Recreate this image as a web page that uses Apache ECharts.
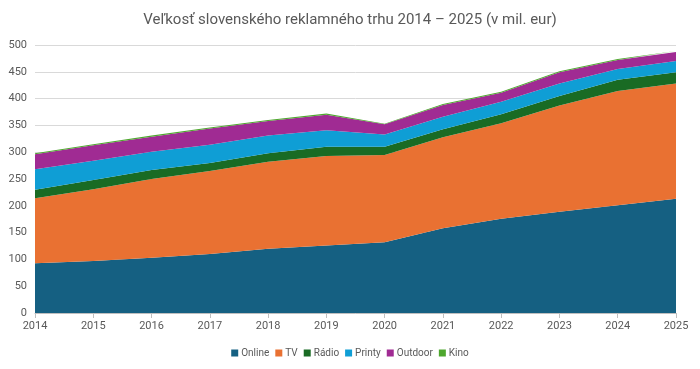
<!DOCTYPE html>
<html><head><meta charset="utf-8">
<script src="https://cdn.jsdelivr.net/npm/echarts@6/dist/echarts.min.js"></script>
<style>html,body{margin:0;padding:0;background:#fff}#c{width:700px;height:369px}</style>
</head><body><div id="c"></div>
<script>
const years = ['2014','2015','2016','2017','2018','2019','2020','2021','2022','2023','2024','2025'];
const online  = [93, 97, 103, 110, 120, 126, 132, 158, 176, 189, 201, 213];
const tv      = [121, 134, 147, 155, 162, 167, 163, 170, 178, 198, 213, 215];
const radio   = [16, 17, 17, 15, 16, 17, 15, 15, 17, 18, 21, 21];
const printy  = [38, 36, 34, 34, 33, 31, 23, 23, 23, 23, 20, 21];
const outdoor = [28, 29, 28, 30, 27, 29, 19, 22, 17, 21, 17, 17];
const kino    = [2, 2, 2, 2, 2, 2, 1, 2, 2, 2, 2, 2];
const names = ['Online','TV','Rádio','Printy','Outdoor','Kino'];
const colors = ['#156082','#E97132','#196B24','#0F9ED5','#A02B93','#4EA72E'];
const data = [online, tv, radio, printy, outdoor, kino];
const font = 'Roboto';
const chart = echarts.init(document.getElementById('c'));
chart.setOption({
  animation:false,
  textStyle:{fontFamily:font},
  title:{text:'Veľkosť slovenského reklamného trhu 2014 – 2025 (v mil. eur)',left:'center',top:8,
    textStyle:{fontFamily:font,fontSize:15,fontWeight:'normal',color:'#595959'}},
  legend:{bottom:6,left:'center',icon:'rect',itemWidth:7,itemHeight:7,itemGap:6,
    textStyle:{fontSize:10,color:'#595959',fontFamily:font,padding:[0,0,0,-2]},data:names},
  grid:{left:35,right:24,top:45,bottom:56},
  xAxis:{type:'category',data:years,boundaryGap:false,
    axisLine:{lineStyle:{color:'#bfbfbf'}},axisTick:{show:true,lineStyle:{color:'#bfbfbf'}},
    axisLabel:{color:'#595959',fontSize:11,margin:8}},
  yAxis:{type:'value',min:0,max:500,interval:50,
    axisLine:{show:false},axisTick:{show:false},
    splitLine:{lineStyle:{color:'#d9d9d9'}},
    axisLabel:{color:'#595959',fontSize:11,margin:8}},
  series:names.map((n,i)=>({name:n,type:'line',stack:'a',data:data[i],symbol:'none',
    lineStyle:{width:0},areaStyle:{color:colors[i],opacity:1},itemStyle:{color:colors[i]}}))
});
</script></body></html>
